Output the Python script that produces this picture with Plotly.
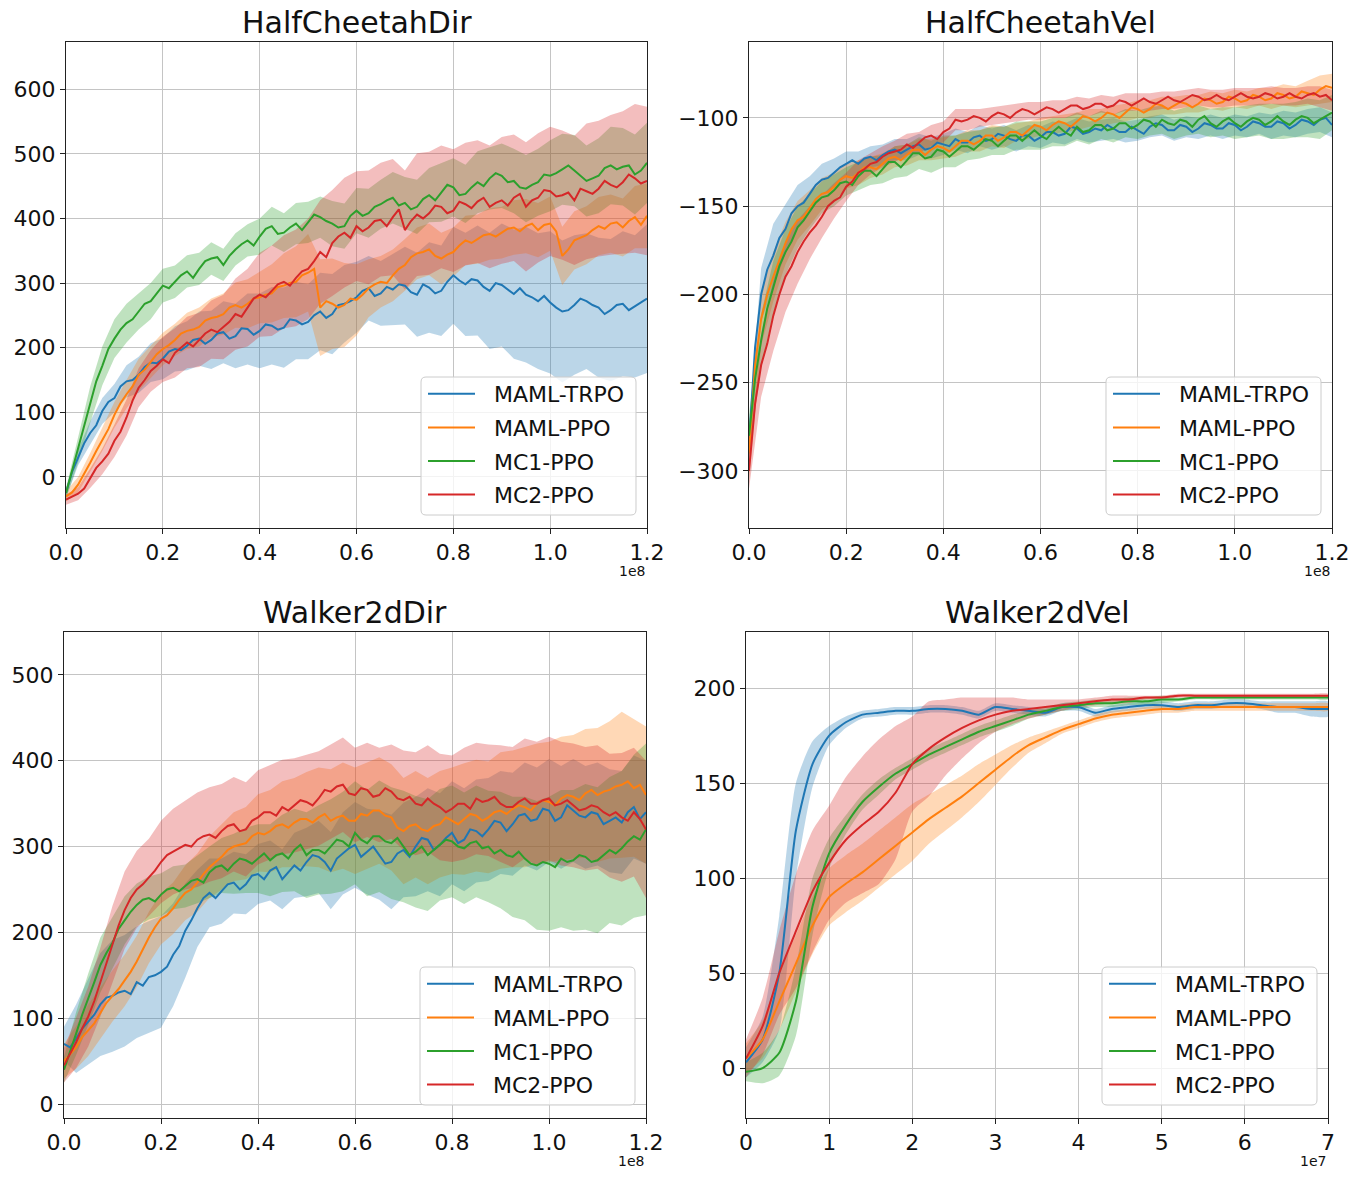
import numpy as np
import plotly.graph_objects as go

# ---------------- data ----------------
series_names = ["MAML-TRPO", "MAML-PPO", "MC1-PPO", "MC2-PPO"]
series_colors = ["#1f77b4", "#ff7f0e", "#2ca02c", "#d62728"]
panel_titles = ["HalfCheetahDir", "HalfCheetahVel", "Walker2dDir", "Walker2dVel"]

# x grids (units of 1e8 for the first three panels, 1e7 for the last)
x_line_1e8 = np.linspace(0.0, 1.2, 97)   # mean curves
x_band_1e8 = np.linspace(0.0, 1.2, 49)   # spread bands
x_1e7 = np.linspace(0.0, 7.0, 36)

x_ticks_1e8 = [0.0, 0.2, 0.4, 0.6, 0.8, 1.0, 1.2]
x_ticklabels_1e8 = ["0.0", "0.2", "0.4", "0.6", "0.8", "1.0", "1.2"]
x_ticks_1e7 = [0, 1, 2, 3, 4, 5, 6, 7]
x_ticklabels_1e7 = ["0", "1", "2", "3", "4", "5", "6", "7"]

# ---- HalfCheetahDir (mean: 97 pts, spread: 49 pts) ----
hcd_trpo = [-25, 8, 30, 52, 68, 80, 102, 116, 122, 140, 148, 150, 158, 170, 177, 176, 183, 194, 198, 196,
            203, 212, 214, 206, 212, 222, 224, 214, 218, 230, 229, 220, 226, 236, 234, 228, 231, 244, 242, 236,
            240, 250, 256, 246, 252, 266, 268, 272, 278, 288, 292, 280, 284, 294, 290, 298, 296, 286, 282, 298,
            293, 284, 288, 302, 312, 304, 298, 306, 304, 294, 288, 300, 297, 290, 283, 292, 282, 278, 272, 280,
            270, 262, 256, 258, 266, 276, 272, 266, 262, 252, 258, 266, 268, 258, 264, 270, 276]
hcd_trpo_sd = [8, 12, 18, 20, 22, 25, 28, 30, 32, 35, 38, 42, 45, 48, 50, 55, 58, 60, 62, 60,
               58, 60, 62, 60, 55, 50, 50, 55, 60, 65, 70, 70, 75, 80, 85, 90, 95, 100, 105, 105,
               110, 110, 108, 105, 108, 110, 112, 110, 115]
hcd_ppo = [-30, -24, -12, 4, 22, 40, 58, 74, 96, 114, 128, 140, 158, 166, 178, 190, 198, 204, 212, 222,
           226, 228, 232, 242, 246, 248, 252, 262, 266, 262, 268, 276, 278, 282, 284, 294, 296, 300, 302, 312,
           316, 322, 262, 272, 268, 262, 266, 276, 274, 282, 292, 298, 302, 300, 312, 322, 328, 340, 346, 348,
           352, 342, 338, 344, 348, 358, 366, 362, 368, 374, 376, 372, 378, 384, 386, 380, 388, 392, 382, 390,
           392, 380, 342, 352, 366, 370, 374, 382, 388, 384, 392, 394, 386, 396, 402, 390, 404]
hcd_ppo_sd = [8, 12, 15, 18, 20, 22, 25, 25, 25, 25, 28, 30, 30, 32, 35, 38, 40, 45, 50, 55,
              60, 75, 70, 65, 55, 45, 40, 40, 40, 40, 40, 40, 38, 38, 38, 40, 40, 42, 42, 42,
              42, 45, 45, 45, 45, 45, 45, 48, 50]
hcd_mc1 = [-25, 10, 42, 80, 112, 148, 172, 198, 214, 228, 238, 244, 256, 268, 272, 284, 296, 292, 302, 312,
           318, 308, 322, 334, 338, 340, 328, 342, 352, 360, 366, 358, 372, 384, 388, 376, 378, 386, 392, 382,
           394, 406, 402, 396, 392, 386, 388, 404, 412, 404, 408, 418, 422, 428, 432, 420, 424, 414, 418, 430,
           436, 428, 440, 452, 448, 436, 438, 448, 456, 450, 462, 470, 466, 456, 458, 448, 446, 452, 456, 468,
           466, 470, 476, 482, 474, 466, 458, 462, 466, 478, 482, 476, 480, 482, 468, 474, 486]
hcd_mc1_sd = [8, 20, 28, 30, 30, 30, 28, 28, 26, 25, 25, 25, 25, 25, 25, 25, 28, 30, 30, 32,
              32, 32, 35, 35, 35, 38, 38, 40, 40, 42, 42, 45, 45, 45, 48, 48, 50, 50, 52, 52,
              55, 55, 55, 55, 58, 60, 60, 62, 62]
hcd_mc2 = [-35, -30, -26, -18, -2, 14, 24, 36, 56, 70, 92, 118, 138, 150, 164, 172, 182, 176, 192, 200,
           208, 202, 212, 222, 228, 224, 232, 240, 252, 248, 262, 276, 282, 278, 288, 298, 302, 296, 308, 318,
           322, 334, 348, 340, 362, 372, 378, 370, 388, 380, 386, 396, 398, 388, 402, 414, 382, 396, 406, 400,
           408, 420, 418, 408, 412, 426, 422, 416, 426, 432, 418, 424, 428, 420, 432, 438, 418, 428, 432, 444,
           442, 434, 436, 440, 428, 446, 442, 438, 446, 458, 452, 448, 456, 468, 462, 454, 458]
hcd_mc2_sd = [8, 10, 15, 20, 25, 28, 30, 32, 35, 38, 40, 42, 45, 50, 55, 60, 65, 70, 72, 75,
              78, 80, 82, 85, 85, 88, 88, 90, 92, 95, 95, 95, 95, 95, 95, 95, 98, 98, 100, 100,
              100, 100, 100, 105, 105, 108, 110, 115, 115]

# ---- HalfCheetahVel ----
hcv_trpo = [-285, -230, -200, -186, -178, -168, -163, -154, -150, -148, -143, -138, -135, -134, -131, -128,
            -126, -124, -126, -123, -122, -124, -121, -119, -118, -120, -118, -116, -115, -118, -117, -114,
            -115, -116, -112, -114, -114, -111, -110, -113, -112, -109, -110, -112, -113, -110, -110, -113,
            -111, -108, -108, -110, -109, -105, -106, -109, -108, -106, -107, -104, -106, -108, -108, -105,
            -107, -109, -105, -103, -104, -107, -107, -104, -105, -108, -106, -103, -104, -106, -106, -103,
            -104, -107, -105, -102, -103, -105, -105, -102, -103, -106, -104, -101, -102, -104, -101, -100, -104]
hcv_trpo_sd = [10, 15, 18, 14, 12, 10, 9, 8, 7, 7, 6, 6, 6, 6, 6, 6, 6, 6, 6, 6, 6, 6, 6, 6, 6, 6, 6, 6, 6, 6,
               6, 6, 6, 6, 6, 6, 6, 6, 6, 6, 6, 6, 6, 7, 7, 7, 7, 7, 7]
hcv_ppo = [-290, -240, -214, -200, -190, -180, -171, -163, -158, -156, -151, -146, -143, -142, -139, -135,
           -133, -134, -131, -128, -128, -129, -126, -123, -122, -124, -121, -118, -118, -121, -118, -116,
           -117, -119, -116, -113, -113, -115, -113, -110, -110, -113, -111, -108, -108, -110, -107, -104,
           -105, -107, -104, -102, -103, -105, -102, -99, -100, -102, -100, -97, -98, -100, -97, -94,
           -95, -97, -95, -92, -93, -95, -93, -91, -92, -94, -92, -89, -90, -92, -91, -88,
           -89, -91, -90, -87, -88, -90, -89, -86, -87, -89, -88, -85, -86, -87, -84, -82, -83]
hcv_ppo_sd = [15, 15, 14, 12, 11, 10, 9, 8, 7, 7, 6, 6, 6, 6, 6, 6, 6, 6, 6, 6, 6, 6, 5, 5, 5, 5, 5, 5, 5, 5,
              5, 5, 5, 5, 5, 5, 5, 5, 5, 5, 5, 5, 5, 6, 6, 6, 7, 8, 8]
hcv_mc1 = [-280, -248, -226, -208, -196, -184, -176, -170, -162, -158, -153, -148, -145, -144, -141, -137,
           -136, -138, -133, -130, -130, -133, -129, -125, -125, -128, -124, -120, -120, -123, -122, -118,
           -119, -122, -119, -116, -116, -118, -115, -112, -113, -116, -113, -110, -110, -113, -110, -107,
           -110, -112, -108, -105, -108, -110, -105, -108, -107, -104, -104, -107, -106, -103, -103, -106,
           -104, -101, -102, -105, -101, -103, -104, -101, -102, -105, -101, -99, -103, -105, -102, -100,
           -103, -105, -102, -100, -101, -104, -102, -99, -102, -104, -101, -99, -100, -103, -101, -99, -97]
hcv_mc1_sd = [12, 15, 15, 13, 12, 10, 9, 9, 8, 8, 8, 8, 9, 9, 9, 9, 9, 9, 8, 8, 8, 8, 8, 8, 8, 8, 8, 8, 8, 8,
              8, 8, 8, 8, 8, 8, 8, 8, 8, 8, 9, 9, 9, 10, 10, 10, 11, 11, 10]
hcv_mc2 = [-300, -262, -240, -228, -212, -200, -190, -184, -176, -170, -165, -161, -156, -150, -147, -145,
           -139, -136, -131, -129, -126, -125, -122, -120, -119, -118, -115, -117, -114, -111, -110, -112,
           -108, -106, -101, -102, -101, -99, -100, -102, -99, -97, -98, -100, -97, -95, -96, -98,
           -96, -94, -95, -97, -95, -93, -93, -95, -94, -92, -92, -94, -93, -90, -91, -93,
           -91, -89, -91, -92, -90, -88, -90, -91, -89, -87, -88, -90, -89, -87, -89, -90,
           -88, -86, -88, -89, -88, -86, -87, -89, -88, -86, -88, -89, -87, -86, -88, -87, -90]
hcv_mc2_sd = [10, 18, 20, 20, 18, 15, 12, 10, 8, 7, 6, 6, 6, 6, 6, 6, 6, 6, 6, 5, 5, 5, 5, 5, 5, 5, 5, 5, 5, 5,
              5, 5, 5, 5, 5, 5, 5, 5, 5, 5, 5, 5, 5, 5, 5, 5, 5, 6, 6]

# ---- Walker2dDir ----
w2d_trpo = [70, 66, 76, 88, 96, 104, 116, 124, 126, 130, 132, 128, 142, 138, 148, 150, 154, 160, 174, 184,
            202, 214, 228, 240, 246, 240, 248, 256, 258, 250, 256, 266, 268, 262, 272, 276, 262, 270, 278, 272,
            282, 290, 288, 282, 272, 286, 292, 298, 302, 288, 294, 300, 290, 280, 282, 292, 296, 288, 300, 310,
            308, 296, 302, 310, 316, 304, 308, 320, 318, 312, 320, 330, 328, 318, 326, 336, 338, 330, 332, 344,
            342, 330, 334, 348, 342, 336, 334, 340, 338, 326, 330, 334, 328, 340, 346, 332, 340]
w2d_trpo_sd = [20, 40, 50, 60, 65, 65, 65, 65, 65, 60, 55, 45, 40, 38, 36, 35, 35, 35, 35, 38,
               40, 42, 45, 48, 50, 50, 52, 55, 55, 58, 60, 60, 60, 60, 60, 60, 60, 60, 60, 60,
               60, 60, 60, 60, 60, 60, 60, 60, 60]
w2d_ppo = [50, 58, 66, 78, 86, 94, 106, 118, 126, 134, 144, 154, 166, 180, 194, 206, 216, 220, 228, 238,
           246, 250, 258, 268, 276, 282, 288, 296, 300, 302, 304, 312, 316, 314, 318, 324, 326, 322, 328, 332,
           332, 328, 334, 338, 330, 334, 336, 330, 330, 338, 336, 342, 342, 336, 334, 322, 318, 324, 326, 320,
           318, 324, 326, 334, 330, 326, 332, 338, 336, 330, 334, 340, 342, 338, 344, 348, 346, 342, 350, 354,
           352, 348, 356, 360, 358, 354, 362, 366, 360, 364, 366, 370, 372, 376, 368, 372, 360]
w2d_ppo_sd = [20, 25, 30, 30, 30, 30, 30, 30, 30, 30, 32, 34, 36, 38, 40, 42, 45, 48, 50, 52,
              55, 58, 60, 62, 62, 62, 62, 62, 62, 62, 62, 62, 62, 65, 65, 65, 68, 68, 70, 70,
              70, 72, 72, 75, 78, 80, 85, 80, 80]
w2d_mc1 = [40, 60, 82, 104, 122, 142, 162, 176, 188, 204, 214, 224, 232, 238, 240, 236, 244, 250, 252, 248,
           254, 260, 262, 258, 270, 276, 278, 272, 280, 286, 284, 280, 286, 292, 284, 290, 292, 286, 296, 302,
           290, 296, 296, 292, 300, 308, 306, 300, 316, 308, 304, 312, 312, 306, 304, 310, 300, 290, 294, 300,
           290, 296, 302, 308, 306, 300, 298, 304, 306, 298, 300, 292, 296, 290, 288, 294, 286, 280, 278, 282,
           280, 276, 286, 282, 284, 290, 288, 282, 284, 290, 296, 292, 298, 306, 312, 308, 320]
w2d_mc1_sd = [15, 25, 30, 32, 30, 28, 25, 25, 25, 25, 25, 28, 30, 32, 35, 38, 40, 42, 45, 48,
              50, 52, 55, 58, 60, 62, 65, 65, 65, 65, 65, 65, 65, 65, 65, 65, 68, 70, 72, 75,
              78, 80, 82, 85, 85, 85, 90, 95, 100]
w2d_mc2 = [45, 58, 72, 88, 102, 120, 142, 166, 186, 208, 226, 240, 250, 256, 264, 272, 282, 290, 294, 298,
           302, 300, 308, 312, 314, 310, 318, 324, 326, 318, 320, 330, 334, 340, 340, 336, 346, 342, 348, 354,
           352, 348, 356, 366, 364, 370, 372, 362, 360, 368, 366, 358, 360, 368, 364, 356, 354, 358, 350, 348,
           356, 350, 346, 340, 344, 350, 350, 344, 356, 352, 354, 358, 350, 346, 346, 352, 356, 350, 350, 354,
           356, 348, 350, 354, 348, 342, 344, 348, 346, 340, 336, 340, 334, 330, 340, 332, 320]
w2d_mc2_sd = [20, 30, 35, 40, 45, 45, 45, 45, 48, 50, 52, 55, 55, 55, 55, 55, 55, 55, 55, 55,
              55, 55, 55, 55, 55, 55, 55, 55, 58, 60, 62, 62, 62, 65, 65, 65, 68, 70, 70, 72,
              72, 72, 72, 72, 72, 72, 75, 75, 80]

# ---- Walker2dVel (36 pts for mean and spread) ----
w2v_trpo = [3, 15, 50, 125, 160, 175, 182, 186, 187, 188, 188, 189, 189, 188, 186, 190, 189, 188, 187, 190,
            190, 187, 189, 190, 191, 191, 190, 191, 191, 192, 192, 191, 190, 190, 189, 189]
w2v_trpo_sd = [8, 12, 30, 25, 12, 5, 3, 2, 2, 2, 2, 2, 2, 2, 2, 2, 2, 2, 2, 2,
               2, 2, 2, 2, 2, 2, 2, 2, 2, 2, 2, 2, 3, 3, 4, 4]
w2v_ppo = [5, 15, 35, 55, 75, 90, 97, 103, 110, 117, 124, 131, 137, 143, 150, 157, 164, 170, 174, 178,
           181, 184, 186, 187, 188, 189, 189, 190, 190, 190, 190, 190, 190, 190, 190, 190]
w2v_ppo_sd = [8, 10, 15, 15, 15, 15, 15, 15, 15, 15, 15, 13, 12, 11, 10, 8, 6, 4, 3, 2,
              2, 2, 2, 2, 2, 2, 2, 2, 2, 2, 2, 2, 2, 2, 2, 2]
w2v_mc1 = [-2, 0, 8, 35, 85, 113, 128, 140, 148, 155, 160, 165, 169, 173, 177, 180, 183, 186, 188, 190,
           191, 192, 192, 193, 193, 194, 194, 195, 195, 195, 195, 195, 195, 195, 195, 195]
w2v_mc1_sd = [5, 8, 12, 18, 15, 8, 5, 4, 4, 3, 3, 3, 3, 3, 3, 3, 3, 2, 2, 2,
              2, 2, 2, 2, 2, 2, 1, 1, 1, 1, 1, 1, 1, 1, 1, 1]
w2v_mc2 = [5, 22, 50, 72, 93, 108, 120, 128, 135, 145, 160, 168, 174, 179, 183, 186, 188, 189, 190, 191,
           192, 193, 194, 194, 195, 195, 196, 196, 196, 196, 196, 196, 196, 196, 196, 196]
w2v_mc2_sd = [10, 15, 22, 30, 32, 30, 33, 36, 38, 35, 25, 25, 20, 16, 12, 9, 7, 5, 4, 3,
              2, 2, 2, 2, 1, 1, 1, 1, 1, 1, 1, 1, 1, 1, 1, 1]

# ---------------- figure ----------------
W, H = 1360, 1180
FONT = "DejaVu Sans"

panels = [
    dict(xl=x_line_1e8, xb=x_band_1e8, step=2,
         means=[hcd_trpo, hcd_ppo, hcd_mc1, hcd_mc2], sds=[hcd_trpo_sd, hcd_ppo_sd, hcd_mc1_sd, hcd_mc2_sd],
         box=(66, 647, 42, 528), yrange=[-79, 673], yticks=[0, 100, 200, 300, 400, 500, 600],
         xticks=x_ticks_1e8, xlabels=x_ticklabels_1e8, xrange=[0, 1.2], exp="1e8", spline=False),
    dict(xl=x_line_1e8, xb=x_band_1e8, step=2,
         means=[hcv_trpo, hcv_ppo, hcv_mc1, hcv_mc2], sds=[hcv_trpo_sd, hcv_ppo_sd, hcv_mc1_sd, hcv_mc2_sd],
         box=(749, 1332, 42, 528), yrange=[-332.3, -57], yticks=[-300, -250, -200, -150, -100],
         xticks=x_ticks_1e8, xlabels=x_ticklabels_1e8, xrange=[0, 1.2], exp="1e8", spline=False),
    dict(xl=x_line_1e8, xb=x_band_1e8, step=2,
         means=[w2d_trpo, w2d_ppo, w2d_mc1, w2d_mc2], sds=[w2d_trpo_sd, w2d_ppo_sd, w2d_mc1_sd, w2d_mc2_sd],
         box=(64, 646, 632, 1118), yrange=[-16.3, 550], yticks=[0, 100, 200, 300, 400, 500],
         xticks=x_ticks_1e8, xlabels=x_ticklabels_1e8, xrange=[0, 1.2], exp="1e8", spline=False),
    dict(xl=x_1e7, xb=x_1e7, step=1,
         means=[w2v_trpo, w2v_ppo, w2v_mc1, w2v_mc2], sds=[w2v_trpo_sd, w2v_ppo_sd, w2v_mc1_sd, w2v_mc2_sd],
         box=(746, 1328, 632, 1118), yrange=[-26.3, 229.5], yticks=[0, 50, 100, 150, 200],
         xticks=x_ticks_1e7, xlabels=x_ticklabels_1e7, xrange=[0, 7], exp="1e7", spline=True),
]


def rgba(hexc, a):
    h = hexc.lstrip("#")
    return "rgba(%d,%d,%d,%.2f)" % (int(h[0:2], 16), int(h[2:4], 16), int(h[4:6], 16), a)


def px(v):
    return v / W


def py(v):
    return 1 - v / H


fig = go.Figure()
annotations = []
shapes = []
layout = {}
NBSP = "\u00a0\u00a0"

for pi, p in enumerate(panels):
    k = "" if pi == 0 else str(pi + 1)
    xa, ya = "x" + k, "y" + k
    leg = "legend" + k
    xl = np.asarray(p["xl"])
    xb = np.asarray(p["xb"])
    shape = "spline" if p["spline"] else "linear"
    # spread bands (centred on the mean curve sampled at the band grid)
    for si in range(4):
        m = np.asarray(p["means"][si], dtype=float)[::p["step"]]
        s = np.asarray(p["sds"][si], dtype=float)
        up, lo = m + s, m - s
        fig.add_trace(go.Scatter(
            x=np.concatenate([xb, xb[::-1]]), y=np.concatenate([up, lo[::-1]]),
            fill="toself", fillcolor=rgba(series_colors[si], 0.3), mode="lines",
            line=dict(width=0, shape=shape, smoothing=0.6), hoverinfo="skip", showlegend=False,
            xaxis=xa, yaxis=ya, legend=leg))
    # mean lines
    for si in range(4):
        fig.add_trace(go.Scatter(
            x=xl, y=p["means"][si], mode="lines", name=NBSP + series_names[si],
            line=dict(color=series_colors[si], width=2, shape=shape, smoothing=0.6),
            xaxis=xa, yaxis=ya, legend=leg, legendgroup="g%d_%d" % (pi, si)))

    x0, x1, y0, y1 = p["box"]
    axis_common = dict(showline=True, mirror=True, linecolor="#222", linewidth=1, automargin=False,
                       ticks="outside", ticklen=5, tickwidth=1, tickcolor="#222",
                       showgrid=True, gridcolor="#c4c4c4", gridwidth=1, zeroline=False,
                       tickfont=dict(family=FONT, size=22, color="#111"))
    layout["xaxis" + k] = dict(axis_common, domain=[px(x0), px(x1)], anchor=ya, range=p["xrange"],
                               tickmode="array", tickvals=p["xticks"], ticktext=p["xlabels"])
    layout["yaxis" + k] = dict(axis_common, domain=[py(y1), py(y0)], anchor=xa, range=p["yrange"],
                               tickmode="array", tickvals=p["yticks"],
                               ticktext=[("\u2212%d" % -v) if v < 0 else str(v) for v in p["yticks"]])
    # title
    annotations.append(dict(text=panel_titles[pi], x=px((x0 + x1) / 2), y=py(y0 - 20),
                            xref="paper", yref="paper", xanchor="center", yanchor="middle", showarrow=False,
                            font=dict(family=FONT, size=30, color="#111")))
    # axis exponent label
    annotations.append(dict(text=p["exp"], x=px(x1), y=py(y1 + 43), xref="paper", yref="paper",
                            xanchor="right", yanchor="middle", showarrow=False,
                            font=dict(family=FONT, size=14, color="#111")))
    # legend frame (rounded box)
    bl, br = x1 - 226, x1 - 11
    bt, bb = y1 - 151, y1 - 13
    r = 5.0
    path = ("M %f %f L %f %f Q %f %f %f %f L %f %f Q %f %f %f %f L %f %f Q %f %f %f %f L %f %f Q %f %f %f %f Z" % (
        px(bl + r), py(bt), px(br - r), py(bt), px(br), py(bt), px(br), py(bt + r),
        px(br), py(bb - r), px(br), py(bb), px(br - r), py(bb),
        px(bl + r), py(bb), px(bl), py(bb), px(bl), py(bb - r),
        px(bl), py(bt + r), px(bl), py(bt), px(bl + r), py(bt)))
    shapes.append(dict(type="path", path=path, xref="paper", yref="paper", layer="above",
                       fillcolor="rgba(255,255,255,0.8)", line=dict(color="#cccccc", width=1)))
    layout[leg] = dict(x=px(bl + 2), y=py(bt - 4), xanchor="left", yanchor="top",
                       bgcolor="rgba(0,0,0,0)", borderwidth=0, itemwidth=47, tracegroupgap=2,
                       font=dict(family=FONT, size=22, color="#111"))

fig.update_layout(**layout)
fig.update_layout(width=W, height=H, margin=dict(l=0, r=0, t=0, b=0, autoexpand=False), paper_bgcolor="white",
                  plot_bgcolor="white", annotations=annotations, shapes=shapes,
                  font=dict(family=FONT, color="#111"))

fig.write_html("out.html")
